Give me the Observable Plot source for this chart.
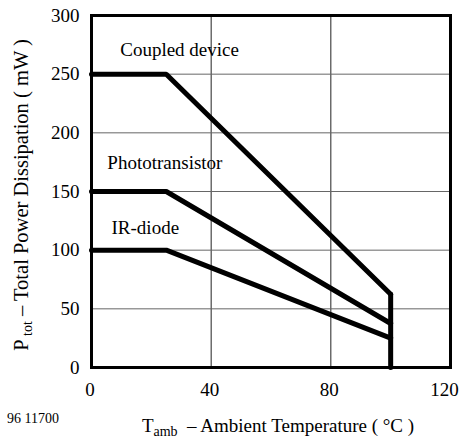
<!DOCTYPE html>
<html><head><meta charset="utf-8">
<script src="https://cdn.jsdelivr.net/npm/d3@7"></script>
<script src="https://cdn.jsdelivr.net/npm/@observablehq/plot@0.6"></script>
<style>body{margin:0;background:#fff}</style>
</head><body><div id="chart"></div>
<script>
const temps = [0, 25, 100];
const coupled = [250, 250, 62.5];
const photo = [150, 150, 37.5];
const irdiode = [100, 100, 25];
const cutoffT = [100, 100];
const cutoffP = [0, 62.5];
const xTicks = [0, 40, 80];
const xTickLast = [120];
const yTicks = [0, 50, 100, 150, 200, 250, 300];
const xGrid = [40, 80];
const yGrid = [50, 100, 150, 200, 250];
const labels = ["Coupled device", "Phototransistor", "IR-diode"];
const labelX = [9.6, 5.3, 6.7];
const labelY = [271, 174, 119];

const series = [coupled, photo, irdiode];
const lineData = series.map(s => temps.map((t, i) => ({t, p: s[i]})));
const cutoff = cutoffT.map((t, i) => ({t, p: cutoffP[i]}));
const labelData = labels.map((l, i) => ({l, x: labelX[i], y: labelY[i]}));

const ff = "'Liberation Serif', 'Times New Roman', serif";
const plot = Plot.plot({
  width: 463, height: 442,
  marginLeft: 91, marginRight: 13, marginTop: 15, marginBottom: 75,
  style: {fontFamily: ff, fontSize: "19px", color: "#000", background: "#fff"},
  x: {domain: [0, 120], label: null},
  y: {domain: [0, 300], label: null},
  marks: [
    Plot.ruleX(xGrid, {stroke: "#222", strokeWidth: 1}),
    Plot.ruleY(yGrid, {stroke: "#666", strokeWidth: 1}),
    ...lineData.map(d => Plot.line(d, {x: "t", y: "p", stroke: "#000", strokeWidth: 5, strokeLinejoin: "miter"})),
    Plot.line(cutoff, {x: "t", y: "p", stroke: "#000", strokeWidth: 5}),
    Plot.text(labelData, {x: "x", y: "y", text: "l", textAnchor: "start", fontSize: 19, fill: "#000", fontFamily: ff}),
    Plot.axisX(xTicks, {tickSize: 0, tickPadding: 15, dx: -1.5, label: null, fontSize: 19}),
    Plot.axisX(xTickLast, {tickSize: 0, tickPadding: 15, dx: -6, label: null, fontSize: 19}),
    Plot.axisY(yTicks, {tickSize: 0, tickPadding: 12, label: null, fontSize: 19}),
    Plot.frame({stroke: "#000", strokeWidth: 3})
  ]
});
document.getElementById("chart").appendChild(plot);

const svg = d3.select(plot);
// y-axis title
const yt = svg.append("text")
  .attr("transform", "translate(28,195) rotate(-90)")
  .attr("text-anchor", "middle")
  .style("font-family", ff).style("font-size", "20.5px").attr("fill", "#000");
yt.append("tspan").text("P");
yt.append("tspan").style("font-size", "14px").attr("dy", 4).text(" tot");
yt.append("tspan").attr("dy", -4).text(" – Total Power Dissipation ( mW )");
// x-axis title
const xt = svg.append("text")
  .attr("transform", "translate(278,432)")
  .attr("text-anchor", "middle")
  .style("font-family", ff).style("font-size", "19px").attr("fill", "#000");
xt.append("tspan").text("T");
xt.append("tspan").style("font-size", "14px").attr("dy", 4).text("amb");
xt.append("tspan").attr("dy", -4).text("  – Ambient Temperature ( °C )");
// figure id
svg.append("text").attr("x", 7).attr("y", 423)
  .attr("text-anchor", "start")
  .style("font-family", ff).style("font-size", "14px").attr("fill", "#000")
  .text("96 11700");
</script></body></html>
